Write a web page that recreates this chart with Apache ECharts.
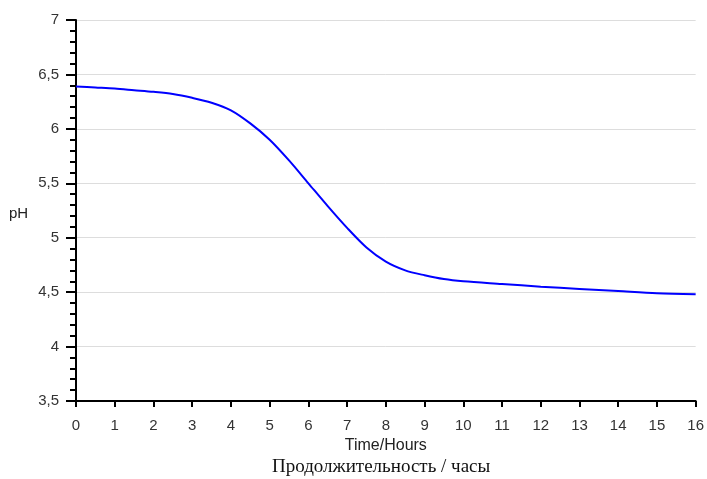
<!DOCTYPE html>
<html><head><meta charset="utf-8">
<script src="https://cdn.jsdelivr.net/npm/echarts@6/dist/echarts.min.js"></script>
<style>html,body{margin:0;padding:0;background:#fff}#c{width:707px;height:479px}</style>
</head><body><div id="c"></div>
<script>
const hours = [0,0.5,1,1.5,2,2.5,3,3.5,4,4.5,5,5.5,6,6.5,7,7.5,8,8.5,9,9.5,10,11,12,13,14,15,16];
const ph    = [6.39,6.38,6.37,6.355,6.34,6.32,6.285,6.24,6.17,6.05,5.90,5.71,5.50,5.29,5.09,4.91,4.78,4.70,4.655,4.62,4.60,4.575,4.55,4.53,4.51,4.49,4.48];
const xTitle = 'Time/Hours';
const subTitle = 'Продолжительность / часы';
const yTitle = 'pH';

const chart = echarts.init(document.getElementById('c'));
chart.setOption({
  animation:false,
  grid:{left:76,right:10,top:20,bottom:78},
  graphic:[
    {type:'text',left:9,top:206,style:{text:yTitle,font:'15px "Liberation Sans", Arial, sans-serif',fill:'#222'}},
    {type:'text',left:272,top:458,style:{text:subTitle,font:'19px "Liberation Serif", "Times New Roman", serif',fill:'#111'}}
  ],
  xAxis:{type:'value',min:0,max:16,interval:1,
    name:xTitle,nameLocation:'middle',nameGap:36,
    nameTextStyle:{color:'#222',fontSize:16,fontFamily:'"Liberation Sans", Arial, sans-serif'},
    axisLine:{lineStyle:{color:'#000',width:2}},
    axisTick:{length:6,lineStyle:{color:'#000',width:2}},
    axisLabel:{color:'#333',fontSize:15,margin:17,fontFamily:'"Liberation Sans", Arial, sans-serif'},
    splitLine:{show:false}},
  yAxis:{type:'value',min:3.5,max:7,interval:0.5,
    axisLine:{show:true,lineStyle:{color:'#000',width:2}},
    axisTick:{show:true,length:10,lineStyle:{color:'#000',width:2}},
    minorTick:{show:true,splitNumber:5,length:6,lineStyle:{color:'#000',width:2}},
    axisLabel:{color:'#333',fontSize:15,margin:17,fontFamily:'"Liberation Sans", Arial, sans-serif',
      formatter:v=>String(v).replace('.',',')},
    splitLine:{show:true,lineStyle:{color:'#ddd',width:1}}},
  series:[{type:'line',data:hours.map((h,i)=>[h,ph[i]]),smooth:0.3,symbol:'none',
    lineStyle:{color:'#0000ff',width:2}}]
});
</script></body></html>
